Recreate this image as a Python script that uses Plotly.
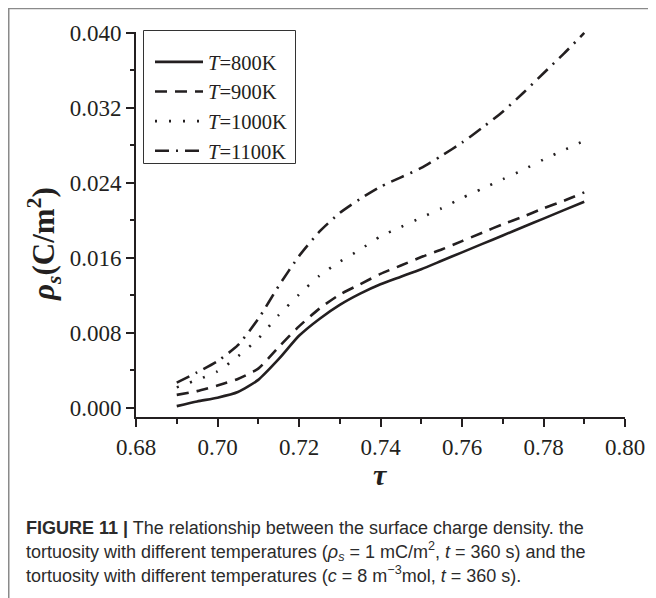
import plotly.graph_objects as go

tau = [0.690, 0.695, 0.700, 0.705, 0.710, 0.715, 0.720, 0.725, 0.730, 0.735, 0.740,
       0.745, 0.750, 0.755, 0.760, 0.765, 0.770, 0.775, 0.780, 0.785, 0.790]

rho_800 = [0.0002, 0.0007, 0.0011, 0.0017, 0.0030, 0.0052, 0.0077, 0.0095, 0.0110, 0.0122, 0.0132,
           0.0140, 0.0148, 0.0157, 0.0166, 0.0175, 0.0184, 0.0193, 0.0202, 0.0211, 0.0220]
rho_900 = [0.0014, 0.0018, 0.0024, 0.0031, 0.0042, 0.0065, 0.0087, 0.0106, 0.0121, 0.0132, 0.0143,
           0.0152, 0.0161, 0.0169, 0.0178, 0.0187, 0.0196, 0.0204, 0.0213, 0.0221, 0.0230]
rho_1000 = [0.0022, 0.0030, 0.0039, 0.0055, 0.0074, 0.0099, 0.0121, 0.0141, 0.0156, 0.0169, 0.0183,
            0.0193, 0.0203, 0.0213, 0.0224, 0.0234, 0.0244, 0.0254, 0.0265, 0.0275, 0.0285]
rho_1100 = [0.0027, 0.0038, 0.0050, 0.0067, 0.0095, 0.0130, 0.0162, 0.0188, 0.0208, 0.0223, 0.0236,
            0.0246, 0.0256, 0.0269, 0.0283, 0.0299, 0.0316, 0.0336, 0.0357, 0.0378, 0.0400]

series_names = ["<i>T</i>=800K", "<i>T</i>=900K", "<i>T</i>=1000K", "<i>T</i>=1100K"]
series_values = [rho_800, rho_900, rho_1000, rho_1100]
dashes = ["solid", "12px,8px", "2px,12px", "14px,7px,2px,7px"]

x_ticks = [0.68, 0.70, 0.72, 0.74, 0.76, 0.78, 0.80]
y_ticks = [0.000, 0.008, 0.016, 0.024, 0.032, 0.040]

OFF = 8  # page body margin
W, H = 656 - OFF, 598 - OFF
L, R, T, B = 136 - OFF, 625 - OFF, 32 - OFF, 417 - OFF  # plot area in figure pixels


def px(xp):
    return (xp - OFF - L) / (R - L)


def py(yp):
    return (B - (yp - OFF)) / (B - T)


INK = "#231f20"
fig = go.Figure()
for name, vals, dsh in zip(series_names, series_values, dashes):
    fig.add_trace(go.Scatter(x=tau, y=vals, mode="lines", name=name,
                             line=dict(color=INK, width=2.6, dash=dsh,
                                       shape="spline", smoothing=0.6)))

serif = "Liberation Serif"
fig.update_layout(
    width=W, height=H,
    margin=dict(l=L, r=W - R, t=T, b=H - B, pad=0),
    paper_bgcolor="white", plot_bgcolor="white",
    font=dict(family=serif, size=22, color=INK),
    showlegend=True,
    legend=dict(x=px(150), y=py(42), xanchor="left", yanchor="top",
                bgcolor="rgba(0,0,0,0)", borderwidth=0,
                font=dict(family=serif, size=20.5, color=INK),
                itemwidth=48, tracegroupgap=0),
    xaxis=dict(range=[0.68, 0.80], tickvals=x_ticks,
               ticktext=[f"{v:.2f}" for v in x_ticks],
               showgrid=False, zeroline=False, showline=True, linecolor=INK, linewidth=2,
               ticks="outside", ticklen=8, tickwidth=2, tickcolor=INK,
               minor=dict(ticks="outside", ticklen=5, tickwidth=2, tickcolor=INK,
                          dtick=0.01, tick0=0.68, showgrid=False),
               tickfont=dict(family=serif, size=23, color=INK)),
    yaxis=dict(range=[-0.00096, 0.0401], tickvals=y_ticks,
               ticktext=[f"{v:.3f}" for v in y_ticks],
               showgrid=False, zeroline=False, showline=True, linecolor=INK, linewidth=2,
               ticks="outside", ticklen=8, tickwidth=2, tickcolor=INK,
               minor=dict(ticks="outside", ticklen=4, tickwidth=2, tickcolor=INK,
                          dtick=0.004, tick0=0, showgrid=False),
               tickfont=dict(family=serif, size=23, color=INK)),
)

# legend frame
fig.add_shape(type="rect", xref="paper", yref="paper", x0=px(143.5), x1=px(295.5),
              y0=py(30.5), y1=py(163.5), line=dict(color="#333", width=1))

# axis titles
fig.add_annotation(x=px(44), y=py(244), xref="paper", yref="paper", showarrow=False,
                   textangle=-90, xanchor="center", yanchor="middle",
                   text="<b><i>ρ</i><sub><i>s</i></sub>(C/m<sup>2</sup>)</b>",
                   font=dict(family=serif, size=31, color=INK))
fig.add_annotation(x=px(380), y=py(474), xref="paper", yref="paper", showarrow=False,
                   xanchor="center", yanchor="middle", text="<b><i>τ</i></b>",
                   font=dict(family=serif, size=30, color=INK))

# caption
sans = "Liberation Sans"
cap_lines = [
    "<b>FIGURE 11 |</b> The relationship between the surface charge density. the",
    "tortuosity with different temperatures (<i>ρ<sub>s</sub></i> = 1 mC/m<sup>2</sup>, <i>t</i> = 360 s) and the",
    "tortuosity with different temperatures (<i>c</i> = 8 m<sup>−3</sup>mol, <i>t</i> = 360 s).",
]
cap_y = [528, 551, 574]
for txt, yy in zip(cap_lines, cap_y):
    fig.add_annotation(x=px(24), y=py(yy), xref="paper", yref="paper", showarrow=False,
                       xanchor="left", yanchor="middle", text=txt,
                       font=dict(family=sans, size=18, color="#2b2b2b"))

# outer frame (top and left edges)
fig.add_shape(type="line", xref="paper", yref="paper", x0=px(8), x1=px(660),
              y0=py(8.5), y1=py(8.5), line=dict(color="#8a8a8a", width=1.5))
fig.add_shape(type="line", xref="paper", yref="paper", x0=px(8.75), x1=px(8.75),
              y0=py(8), y1=py(602), line=dict(color="#8a8a8a", width=1.5))

fig.write_html("out.html")
